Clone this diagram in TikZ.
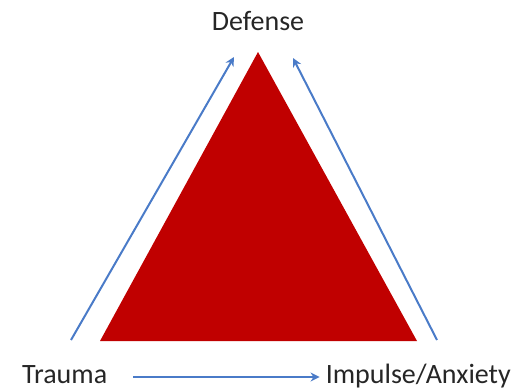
\documentclass[tikz,border=0pt]{standalone}
\usepackage{fontspec}
\setmainfont{Carlito}
\usetikzlibrary{arrows.meta}
\definecolor{tri}{HTML}{C00000}
\definecolor{arr}{HTML}{4A7BC8}
\definecolor{txt}{HTML}{262626}
\begin{document}
\begin{tikzpicture}[x=1pt,y=-1pt,
  lbl/.style={font=\fontsize{28}{30}\selectfont,text=txt,inner sep=0pt},
  conn/.style={draw=arr,line width=2pt,-{Stealth[length=9pt,width=9pt]}}]
\useasboundingbox (0,0) rectangle (513,391);
\coordinate (apex) at (258,52);
\coordinate (bl) at (100,341);
\coordinate (br) at (417,341);
\fill[tri] (apex) -- (br) -- (bl) -- cycle;
\node[lbl,anchor=base] (defense) at (258,30) {Defense};
\node[lbl,anchor=base west] (trauma) at (22,383) {Trauma};
\node[lbl,anchor=base east] (impulse) at (511,383) {Impulse/Anxiety};
\coordinate (l0) at (71,340);
\coordinate (l1) at (234,57);
\coordinate (r0) at (437,340);
\coordinate (r1) at (293,58);
\draw[conn] (l0) -- (l1);
\draw[conn] (r0) -- (r1);
\draw[conn] ([xshift=26pt,yshift=6pt]trauma.base east) -- ([xshift=-6pt,yshift=6pt]impulse.base west);
\end{tikzpicture}
\end{document}
